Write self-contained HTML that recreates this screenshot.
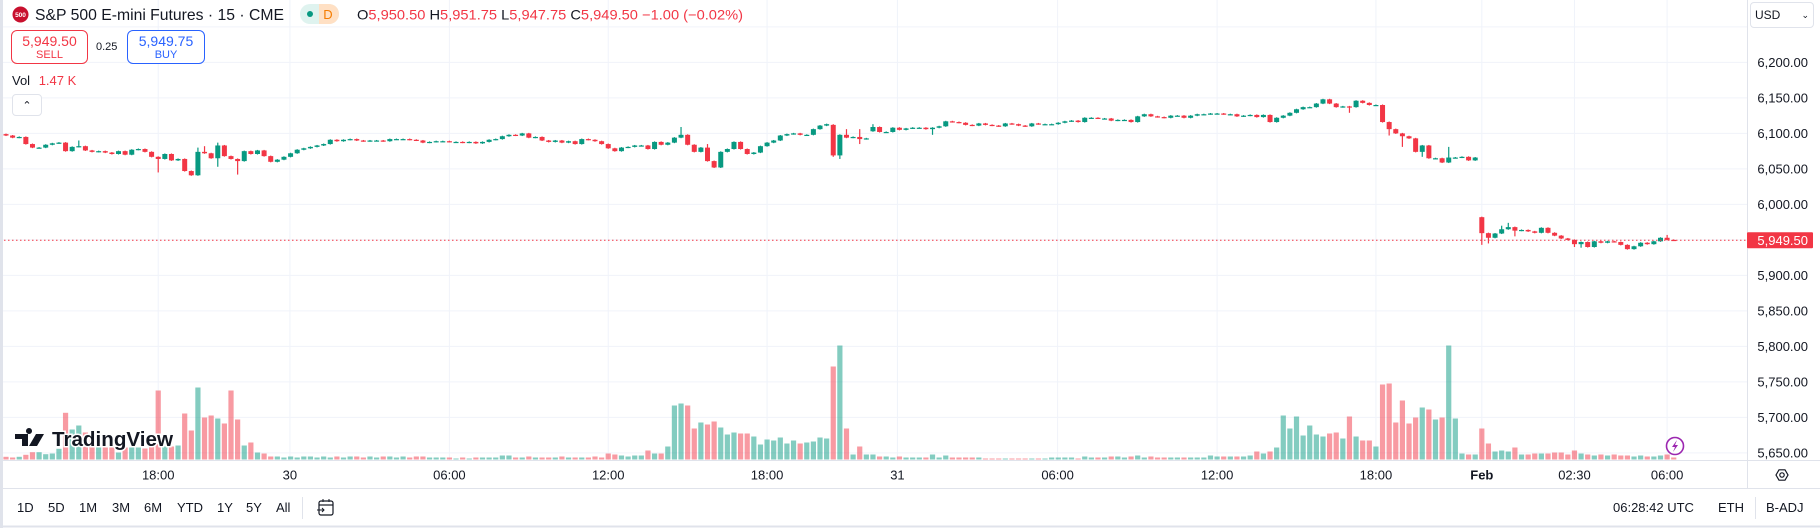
<!DOCTYPE html>
<html><head><meta charset="utf-8">
<style>
html,body{margin:0;padding:0;background:#fff;}
body{width:1820px;height:528px;position:relative;overflow:hidden;font-family:"Liberation Sans",sans-serif;color:#131722;}
.abs{position:absolute;white-space:nowrap;}
.red{color:#F23645;}
</style></head><body>
<svg id="chart" width="1820" height="528" style="position:absolute;left:0;top:0">
  <g id="grid"></g>
  <g id="vols"></g>
  <g id="candles"></g>
  <line id="pline" x1="0" x2="1747" stroke="#F23645" stroke-width="1" stroke-dasharray="1.5,2.5"/>
  <rect x="0" y="0" width="3" height="528" fill="#e0e3eb"/>
  <line x1="1747.5" x2="1747.5" y1="0" y2="488" stroke="#e0e3eb"/>
  <line x1="0" x2="1820" y1="460.5" y2="460.5" stroke="#e0e3eb"/>
  <line x1="0" x2="1820" y1="488.5" y2="488.5" stroke="#e0e3eb"/>
  <line x1="0" x2="1820" y1="526.5" y2="526.5" stroke="#e0e3eb" stroke-width="2"/>
  <g id="yaxis"></g>
  <g id="xaxis"></g>
  <g id="plabel"></g>
  <g>
    <path d="M15 434 h13 v12 h-6 v-7 h-7z M29 434 a3 3 0 1 1 0.01 0z M36 434 h8 l-7 12 h-8z" fill="#131722"/>
    <text x="52" y="446" font-size="20" font-weight="bold" fill="#131722" stroke="#fff" stroke-width="3" paint-order="stroke" font-family="Liberation Sans, sans-serif" textLength="121" lengthAdjust="spacingAndGlyphs">TradingView</text>
  </g>
  <g>
    <circle cx="1675" cy="446" r="8.5" fill="#fff" stroke="#9c27b0" stroke-width="1.6"/>
    <path d="M1677 440 l-5 7 h3 l-2 5 l5 -7 h-3z" fill="#9c27b0"/>
  </g>
  <g>
    <polygon points="1776,475 1779,469.8 1785,469.8 1788,475 1785,480.2 1779,480.2" fill="none" stroke="#131722" stroke-width="1.2"/>
    <circle cx="1782" cy="475" r="2.2" fill="none" stroke="#131722" stroke-width="1.2"/>
  </g>
  <g>
    <circle cx="20.5" cy="14.5" r="8" fill="#c8102e"/>
    <text x="20.5" y="16.8" font-size="6.5" font-weight="bold" fill="#fff" text-anchor="middle" font-family="Liberation Sans, sans-serif">500</text>
    <text x="35" y="20" font-size="16" fill="#131722" font-family="Liberation Sans, sans-serif" textLength="249" lengthAdjust="spacingAndGlyphs">S&amp;P 500 E-mini Futures · 15 · CME</text>
    <g>
      <rect x="300" y="4" width="39" height="20" rx="10" fill="#dff3ef"/>
      <path d="M319 4 h10 a10 10 0 0 1 0 20 h-10z" fill="#ffe0c4"/>
      <circle cx="310" cy="14" r="3" fill="#089981"/>
      <text x="328" y="19" font-size="13" fill="#f57c00" text-anchor="middle" font-family="Liberation Sans, sans-serif">D</text>
    </g>
    <text x="357" y="19.5" font-size="14" fill="#131722" font-family="Liberation Sans, sans-serif" textLength="386" lengthAdjust="spacingAndGlyphs">O<tspan fill="#F23645">5,950.50</tspan> H<tspan fill="#F23645">5,951.75</tspan> L<tspan fill="#F23645">5,947.75</tspan> C<tspan fill="#F23645">5,949.50</tspan> <tspan fill="#F23645">−1.00 (−0.02%)</tspan></text>
  </g>
</svg>

<div class="abs" style="left:11px;top:30px;width:75px;height:32px;border:1px solid #F23645;border-radius:6px;text-align:center;color:#F23645;background:#fff">
  <div style="font-size:14px;margin-top:2px">5,949.50</div><div style="font-size:11px;margin-top:0px">SELL</div></div>
<div class="abs" style="left:96px;top:41px;font-size:11px;">0.25</div>
<div class="abs" style="left:127px;top:30px;width:76px;height:32px;border:1px solid #2962FF;border-radius:6px;text-align:center;color:#2962FF;background:#fff">
  <div style="font-size:14px;margin-top:2px">5,949.75</div><div style="font-size:11px;margin-top:0px">BUY</div></div>
<div class="abs" style="left:12px;top:73px;font-size:13px;">Vol <span class="red" style="margin-left:5px">1.47 K</span></div>
<div class="abs" style="left:12px;top:94px;width:28px;height:20px;border:1px solid #e0e3eb;border-radius:4px;background:#fff;font-size:11px;text-align:center;line-height:22px">⌃</div>
<div class="abs" style="left:1750px;top:2px;width:62px;height:24px;border:1px solid #e0e3eb;border-radius:4px;font-size:12px;line-height:24px;background:#fff"><span style="margin-left:4px">USD</span><span style="position:absolute;right:4px;font-size:9px">⌄</span></div>

<div class="abs" style="left:0;top:500px;font-size:13px;">
  <span class="abs" style="left:17px">1D</span>
  <span class="abs" style="left:48px">5D</span>
  <span class="abs" style="left:79px">1M</span>
  <span class="abs" style="left:112px">3M</span>
  <span class="abs" style="left:144px">6M</span>
  <span class="abs" style="left:177px">YTD</span>
  <span class="abs" style="left:217px">1Y</span>
  <span class="abs" style="left:246px">5Y</span>
  <span class="abs" style="left:276px">All</span>
</div>
<div class="abs" style="left:302px;top:497px;width:1px;height:22px;background:#e0e3eb"></div>
<svg class="abs" style="left:316px;top:498px" width="20" height="20">
  <rect x="3" y="3" width="14" height="14" rx="2" fill="none" stroke="#131722" stroke-width="1.2"/><line x1="3" y1="7" x2="17" y2="7" stroke="#131722" stroke-width="1.2"/><line x1="7" y1="1" x2="7" y2="4" stroke="#131722"/><line x1="13" y1="1" x2="13" y2="4" stroke="#131722"/><path d="M1 12 h7 M6 10 l2 2 -2 2" fill="none" stroke="#131722"/>
</svg>
<div class="abs" style="left:1613px;top:500px;font-size:13px;">06:28:42 UTC</div>
<div class="abs" style="left:1718px;top:500px;font-size:13px;">ETH</div>
<div class="abs" style="left:1755px;top:497px;width:1px;height:22px;background:#e0e3eb"></div>
<div class="abs" style="left:1766px;top:500px;font-size:13px;">B-ADJ</div>

<script>
const closes = [6097,6094,6095,6085,6080,6080,6084,6086,6087,6075,
6081,6082,6076,6074,6075,6073,6071,6075,6070,6077,
6078,6074,6067,6064,6071,6062,6064,6047,6041,6074,
6072,6065,6083,6068,6064,6061,6075,6071,6076,6068,
6060,6063,6067,6072,6077,6079,6081,6083,6085,6091,
6089,6091,6092,6090,6089,6090,6090,6089,6092,6092,
6092,6091,6090,6087,6088,6089,6089,6088,6088,6087,
6088,6086,6088,6091,6092,6096,6098,6097,6100,6094,
6095,6090,6088,6090,6087,6089,6085,6092,6091,6089,
6085,6079,6075,6080,6081,6083,6083,6078,6088,6084,
6087,6094,6098,6084,6074,6080,6061,6052,6074,6078,
6088,6078,6071,6073,6082,6087,6090,6097,6099,6100,
6098,6098,6106,6111,6113,6069,6098,6094,6095,6092,
6093,6109,6102,6102,6108,6105,6107,6108,6108,6106,
6108,6110,6117,6116,6115,6112,6111,6114,6112,6111,
6110,6114,6113,6111,6110,6114,6113,6113,6113,6115,
6117,6118,6116,6122,6122,6121,6121,6118,6119,6119,
6116,6124,6127,6124,6123,6122,6125,6125,6122,6125,
6127,6127,6128,6128,6127,6127,6124,6125,6126,6123,
6126,6116,6122,6125,6129,6134,6137,6137,6142,6148,
6142,6137,6138,6137,6146,6143,6140,6140,6116,6106,
6100,6096,6093,6074,6083,6065,6065,6059,6066,6066,
6067,6062,6066,5959.5,5953,5959,5965,5968,5963,5964,
5962,5960,5967,5960,5956,5952,5950,5944,5947,5940,
5948,5946,5948,5947,5943,5937,5941,5946,5944,5948,
5953,5950,5949.5];
const firstOpen = 6099;
const gapOpenIdx = [125,131,223];
const gapOpenVal = [6112,6103,5982];
const highIdx = [11,29,30,32,102,106,125,127,129,131,218,226,227,251];
const highVal = [6090,6080,6082,6087,6109,6085,6113,6106,6106,6113,6081,5970,5974,5957];
const lowIdx = [23,32,35,125,126,129,140,203,209,211,214,223,224,228,237,238];
const lowVal = [6045,6053,6042,6067,6064,6085,6098,6129,6097,6081,6067,5943,5945,5955,5940,5939];
const volumesK = [2.7,2,2.7,4.7,7.3,7.3,5.3,6,10.7,46.7,
30,34,27,23,12,12,12,7,12,12,
12,11,13,69,13,13,14,46,29,72,
42,44,41,36,69,40,14,17,7,6,
3,3,2,3,2,3,3,2,3,2,
3,2,3,3,2,3,2,3,3,2,
3,2,3,3,2,2,2,2,1,2,
1,2,2,2,2,4,4,2,2,3,
2,2,2,2,3,2,2,2,2,3,
2,6,5,4,3,4,4,9,6,6,
13,54,56,54,31,37,35,38,32,25,
27,26,26,23,15,20,19,22,16,19,
16,17,18,22,21,93,114,31,5,13,
5,5,3,3,2,3,2,2,2,2,
5,2,4,2,2,2,2,2,1,1,
1,1,1,1,1,1,1,1,2,2,
2,2,1,3,2,2,2,3,3,2,
3,4,2,3,2,2,2,2,2,2,
2,2,4,3,3,3,3,3,4,8,
6,8,12,44,31,43,24,34,25,23,
26,27,21,43,23,19,19,13,75,76,
37,59,36,42,52,50,40,42,114,41,
6,5,5,31,16,8,9,8,12,5,
5,6,6,6,7,7,5,9,6,5,
4,5,4,5,4,4,3,4,3,3,
4,5,2];
const priceTicks = [5650,5700,5750,5800,5850,5900,5950,6000,6050,6100,6150,6200,6250];
const priceLabels = ["5,650.00","5,700.00","5,750.00","5,800.00","5,850.00","5,900.00",null,"6,000.00","6,050.00","6,100.00","6,150.00","6,200.00",null];
const timeLabels = ["18:00","30","06:00","12:00","18:00","31","06:00","12:00","18:00","Feb","02:30","06:00"];
const timeLabelBar = [23.0,42.9,67.0,91.0,115.0,134.7,158.9,183.0,207.0,223.0,237.0,251.0];
const lastPrice = 5949.5;

const NS="http://www.w3.org/2000/svg";
function yP(p){return 204.4-(p-6000)*0.71;}
function xB(i){return 6+i*6.618;}
function yV(v){return 459.5-v;}
function mk(tag,attrs,parent){const e=document.createElementNS(NS,tag);for(const k in attrs)e.setAttribute(k,attrs[k]);parent.appendChild(e);return e;}

const grid=document.getElementById('grid');
priceTicks.forEach((p,i)=>{
  const l=mk('line',{x1:0,x2:1747,y1:yP(p),y2:yP(p),stroke:'#f0f3fa','stroke-width':1},grid);
  
  
});
timeLabelBar.forEach((b,i)=>{
  const l=mk('line',{x1:xB(b),x2:xB(b),y1:0,y2:460,stroke:'#f0f3fa','stroke-width':1},grid);
  
  
});
const ya=document.getElementById('yaxis');
priceTicks.forEach((p,i)=>{
  if(!priceLabels[i])return;
  const t=mk('text',{x:1808,y:yP(p)+4.5,'text-anchor':'end','font-size':13,fill:'#131722','font-family':'Liberation Sans, sans-serif'},ya);
  t.textContent=priceLabels[i];
  
  
});
const xa=document.getElementById('xaxis');
timeLabels.forEach((s,i)=>{
  const t=mk('text',{x:xB(timeLabelBar[i]),y:479.5,'text-anchor':'middle','font-size':13,fill:'#131722','font-weight':s==='Feb'?'bold':'normal','font-family':'Liberation Sans, sans-serif'},xa);
  t.textContent=s;
  
  
});
const cg=document.getElementById('candles'), vg=document.getElementById('vols');
const UP='#089981', DN='#F23645';
for(let i=0;i<closes.length;i++){
  let o = i===0?firstOpen:closes[i-1];
  const gi=gapOpenIdx.indexOf(i); if(gi>=0)o=gapOpenVal[gi];
  const c=closes[i];
  let h=Math.max(o,c)+0.75, l=Math.min(o,c)-0.75;
  const hi=highIdx.indexOf(i); if(hi>=0)h=Math.max(h,highVal[hi]);
  const li=lowIdx.indexOf(i); if(li>=0)l=Math.min(l,lowVal[li]);
  const up=c>=o, col=up?UP:DN, x=xB(i);
  const v=mk('rect',{x:x-2.6,y:yV(volumesK[i]),width:5.2,height:volumesK[i],fill:col,'fill-opacity':0.5},vg);
  
  
  const w=mk('line',{x1:x,x2:x,y1:yP(h),y2:yP(l),stroke:col,'stroke-width':1.2},cg);
  
  
  const top=yP(Math.max(o,c)), bh=Math.max(1.2,yP(Math.min(o,c))-top);
  const r=mk('rect',{x:x-2.5,y:top,width:5,height:bh,fill:col},cg);
  
  
}
const py=yP(lastPrice);
const pl=document.getElementById('pline'); pl.setAttribute('y1',py); pl.setAttribute('y2',py);
const pg=document.getElementById('plabel');
mk('rect',{x:1747,y:py-8,width:66,height:16,fill:'#F23645',rx:1},pg);
const pt=mk('text',{x:1808,y:py+4.5,'text-anchor':'end','font-size':13,fill:'#fff','font-family':'Liberation Sans, sans-serif'},pg);
pt.textContent='5,949.50';
</script>
</body></html>
